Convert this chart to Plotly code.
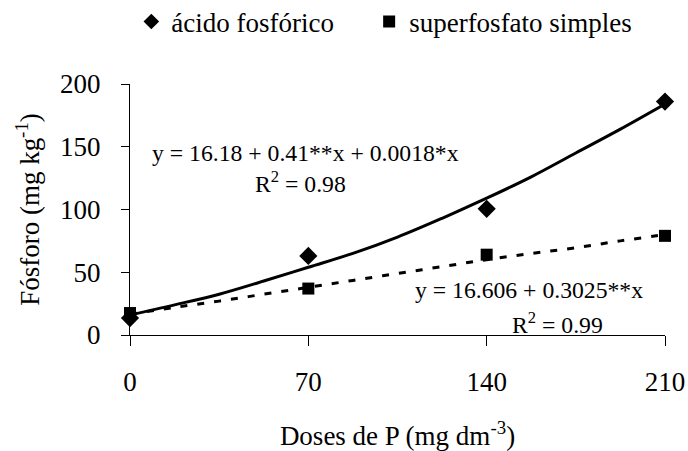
import plotly.graph_objects as go

doses = [0, 70, 140, 210]
acido = [13.5, 63, 100.5, 186]
super_ = [17.5, 37, 64, 79]

curve_x = [0, 17.5, 35, 52.5, 70, 87.5, 105, 122.5, 140, 157.5, 175, 192.5, 210]
acido_fit = [16, 24, 32.5, 43, 54, 65, 78, 93, 109, 126, 145, 164, 184]
super_fit = [16.5, 22, 27, 32.5, 38, 43.5, 49, 54.5, 60, 65, 69.5, 75, 80]

FONT = "Liberation Serif"
BIG = 27
ANN = 23.7

fig = go.Figure()
fig.add_trace(go.Scatter(x=curve_x, y=acido_fit, mode="lines", line=dict(color="black", width=3, shape="spline"),
                         showlegend=False, hoverinfo="skip"))
fig.add_trace(go.Scatter(x=curve_x, y=super_fit, mode="lines", line=dict(color="black", width=3, shape="spline", dash="7px,10px"),
                         showlegend=False, hoverinfo="skip"))
fig.add_trace(go.Scatter(x=doses, y=acido, mode="markers", name="ácido fosfórico", legend="legend",
                         marker=dict(symbol="diamond", size=14, color="black"), cliponaxis=False))
fig.add_trace(go.Scatter(x=doses, y=super_, mode="markers", name="superfosfato simples", legend="legend2",
                         marker=dict(symbol="square", size=12, color="black"), cliponaxis=False))

ann_font = dict(family=FONT, size=ANN, color="black")
fig.add_annotation(x=0.037, y=0.725, xref="paper", yref="paper", text="y = 16.18 + 0.41**x + 0.0018*x",
                   showarrow=False, xanchor="left", yanchor="middle", font=ann_font)
fig.add_annotation(x=0.229, y=0.61, xref="paper", yref="paper", text="R<sup>2</sup> = 0.98",
                   showarrow=False, xanchor="left", yanchor="middle", font=ann_font)
fig.add_annotation(x=0.529, y=0.179, xref="paper", yref="paper", text="y = 16.606 + 0.3025**x",
                   showarrow=False, xanchor="left", yanchor="middle", font=ann_font)
fig.add_annotation(x=0.71, y=0.048, xref="paper", yref="paper", text="R<sup>2</sup> = 0.99",
                   showarrow=False, xanchor="left", yanchor="middle", font=ann_font)

leg_common = dict(orientation="h", yref="container", y=1 - 22 / 451, xanchor="left", yanchor="middle",
                  font=dict(family=FONT, size=BIG, color="black"), itemsizing="constant",
                  bgcolor="rgba(0,0,0,0)")

fig.update_layout(
    width=688, height=451,
    margin=dict(l=130, r=23, t=84, b=116),
    paper_bgcolor="white", plot_bgcolor="white",
    font=dict(family=FONT, size=BIG, color="black"),
    legend=dict(x=0.0025, **leg_common),
    legend2=dict(x=0.447, **leg_common),
    xaxis=dict(range=[0, 210], tickvals=doses, ticks="outside", ticklen=10, tickcolor="black",
               showline=True, linecolor="black", linewidth=1, showgrid=False, zeroline=False,
               automargin=False,
               ticklabelstandoff=13, tickfont=dict(family=FONT, size=BIG, color="black"),
               title=dict(text="Doses de P (mg dm<sup>-3</sup>)", standoff=32,
                          font=dict(family=FONT, size=BIG, color="black"))),
    yaxis=dict(range=[0, 200], tickvals=[0, 50, 100, 150, 200], ticks="outside", ticklen=8, tickcolor="black",
               showline=True, linecolor="black", linewidth=1, showgrid=False, zeroline=False,
               automargin=False,
               ticklabelstandoff=15, tickfont=dict(family=FONT, size=BIG, color="black"),
               title=dict(text="Fósforo (mg kg<sup>-1</sup>)", standoff=12,
                          font=dict(family=FONT, size=BIG, color="black"))),
)

fig.write_html("out.html")
